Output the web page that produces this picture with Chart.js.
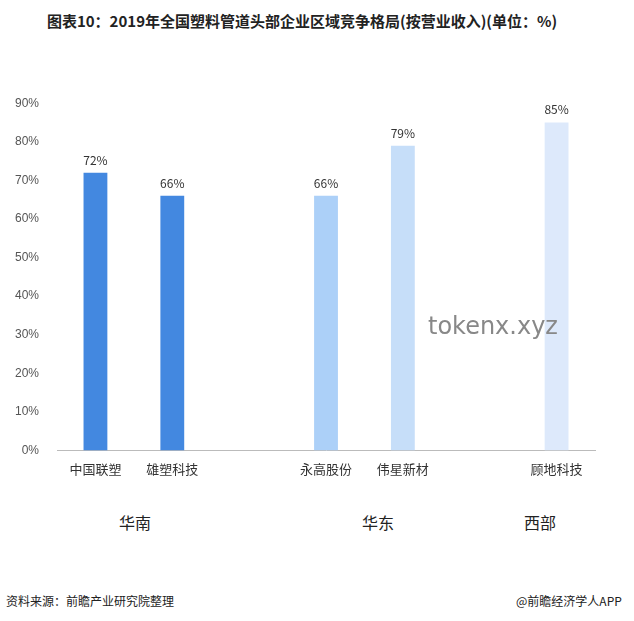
<!DOCTYPE html>
<html><head><meta charset="utf-8">
<script src="https://cdn.jsdelivr.net/npm/chart.js@4"></script>
<style>
body{margin:0;width:634px;height:621px;background:#fff;font-family:"Noto Sans CJK SC","Noto Sans",sans-serif;position:relative;overflow:hidden}
#title{position:absolute;top:10px;left:0;width:604px;text-align:center;font-weight:bold;font-size:15px;color:#222}
#wrap{position:absolute;left:0;top:86px;width:620px;height:394px}
.reg{position:absolute;top:510px;font-size:16px;color:#222}
.foot{position:absolute;top:592px;font-size:12px;color:#222}
#wm{position:absolute;left:428px;top:312px;font-size:24px;color:#888;font-family:"DejaVu Sans",sans-serif}
</style></head><body>
<div id="title">图表10：2019年全国塑料管道头部企业区域竞争格局(按营业收入)(单位：%)</div>
<div id="wrap"><canvas id="c"></canvas></div>
<div class="reg" style="left:119px">华南</div>
<div class="reg" style="left:362px">华东</div>
<div class="reg" style="left:524px">西部</div>
<div class="foot" style="left:6px">资料来源：前瞻产业研究院整理</div>
<div class="foot" style="left:516px">@前瞻经济学人APP</div>
<div id="wm">tokenx.xyz</div>
<script>
const categories=['中国联塑','雄塑科技','','永高股份','伟星新材','','顾地科技'];
const values=[72,66,null,66,79,null,85];
const colors=['#4388e0','#4388e0','#fff','#acd0f8','#c6def9','#fff','#dde9fb'];
const yTicks=[0,10,20,30,40,50,60,70,80,90];
const labelPlugin={id:'lbl',afterDatasetsDraw(ch){const ctx=ch.ctx;ctx.save();ctx.font='12px "Noto Sans CJK SC",sans-serif';ctx.fillStyle='#333';ctx.textAlign='center';
ch.getDatasetMeta(0).data.forEach((b,i)=>{if(values[i]==null)return;ctx.fillText(values[i]+'%',b.x,b.y-8);});ctx.restore();}};
new Chart(document.getElementById('c'),{type:'bar',
data:{labels:categories,datasets:[{data:values,backgroundColor:colors,barPercentage:0.31,categoryPercentage:1}]},
options:{responsive:true,maintainAspectRatio:false,animation:false,
layout:{padding:{left:5,right:25,top:10}},
plugins:{legend:{display:false},tooltip:{enabled:false}},
scales:{x:{grid:{display:false},border:{color:'#bbb'},ticks:{color:'#333',font:{size:13,family:'"Noto Sans CJK SC"'}}},
y:{min:0,max:90,afterBuildTicks(a){a.ticks=yTicks.map(v=>({value:v}));},grid:{display:false},border:{display:false},
ticks:{color:'#555',font:{size:12},padding:10,callback:v=>v+'%'}}}},
plugins:[labelPlugin]});
</script></body></html>
